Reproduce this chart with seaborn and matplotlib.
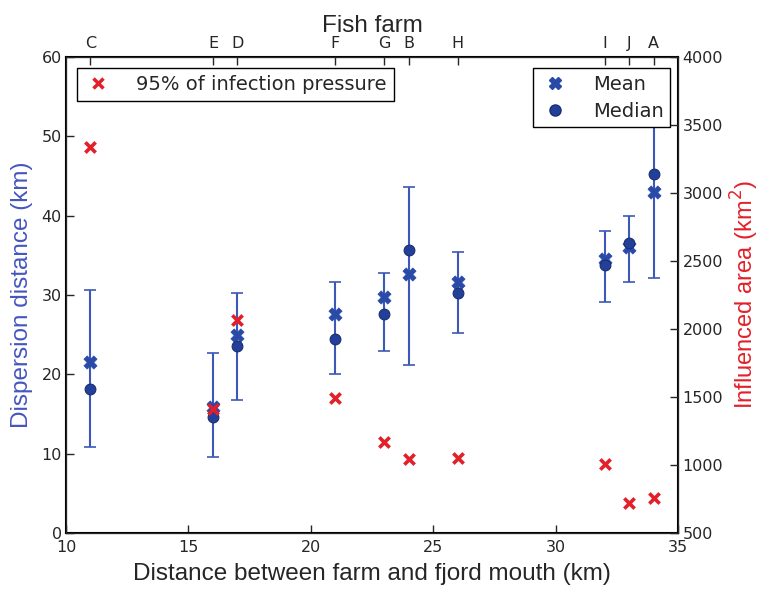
import numpy as np
import pandas as pd
import matplotlib
matplotlib.use("Agg")
import matplotlib.pyplot as plt
import seaborn as sns
from matplotlib.lines import Line2D

farms = ["C", "E", "D", "F", "G", "B", "H", "I", "J", "A"]
distance = [11, 16, 17, 21, 23, 24, 26, 32, 33, 34]
mean_km = [21.5, 15.9, 24.9, 27.6, 29.7, 32.7, 31.6, 34.6, 36.1, 43.0]
median_km = [18.1, 14.6, 23.6, 24.5, 27.6, 35.7, 30.2, 33.8, 36.5, 45.2]
err_low = [10.8, 9.6, 16.8, 20.0, 23.0, 21.2, 25.2, 29.1, 31.6, 32.2]
err_high = [30.6, 22.7, 30.2, 31.7, 32.8, 43.6, 35.4, 38.1, 40.0, 56.0]
area_km2 = [3340, 1410, 2070, 1490, 1170, 1045, 1055, 1005, 720, 755]

sns.set_style("white")
plt.rcParams["font.family"] = ["DejaVu Sans"]

blue = "#2a4aa8"
blue_err = "#3d58b8"
red = "#e3202a"
label_font = "Liberation Sans"

df = pd.DataFrame({"farm": farms, "x": distance, "mean": mean_km, "median": median_km,
                   "lo": err_low, "hi": err_high, "area": area_km2})

fig = plt.figure(figsize=(7.63, 5.91), dpi=100)
ax = fig.add_axes([0.0865, 0.098, 0.8025, 0.8056])

yerr = np.array([df["median"] - df["lo"], df["hi"] - df["median"]])
ax.errorbar(df["x"], df["median"], yerr=yerr, fmt="none", ecolor=blue_err,
            elinewidth=1.5, capsize=4, capthick=1.2, zorder=2)
sns.scatterplot(data=df, x="x", y="mean", marker="X", s=90, color=blue,
                edgecolor=blue, linewidth=0.5, ax=ax, zorder=3, legend=False)
sns.scatterplot(data=df, x="x", y="median", marker="o", s=60, color="#22409a",
                edgecolor="#1a2f70", linewidth=0.8, ax=ax, zorder=4, legend=False)

ax.set_xlim(10, 35)
ax.set_ylim(0, 60)
ax.set_xticks([10, 15, 20, 25, 30, 35])
ax.set_yticks([0, 10, 20, 30, 40, 50, 60])
ax.set_xlabel("Distance between farm and fjord mouth (km)", fontsize=17.5,
              family=label_font, labelpad=6)
ax.set_ylabel("Dispersion distance (km)", fontsize=17.5, color="#4656c0",
              family=label_font, labelpad=6)
ax.tick_params(axis="y", direction="in", length=6, width=1, labelsize=11.5,
               left=True, pad=3)
ax.tick_params(axis="x", direction="in", length=6, width=1, labelsize=11.5,
               bottom=True, pad=5)
for s in ax.spines.values():
    s.set_linewidth(1.5)
    s.set_color("black")

ax2 = ax.twinx()
sns.scatterplot(data=df, x="x", y="area", marker="x", s=55, color=red,
                linewidth=2.6, ax=ax2, zorder=3, legend=False)
ax2.set_ylim(500, 4000)
ax2.set_yticks(np.arange(500, 4001, 500))
ax2.set_ylabel("Influenced area (km$^2$)", fontsize=17, color=red,
               family=label_font, labelpad=4)
ax2.tick_params(axis="y", direction="in", length=6, width=1, labelsize=11.5,
                right=True, pad=3)
ax2.set_xlim(10, 35)

ax3 = ax.twiny()
ax3.set_xlim(10, 35)
ax3.set_xticks(distance)
ax3.set_xticklabels(farms)
ax3.tick_params(axis="x", direction="in", length=6, width=1, labelsize=11.5,
                top=True, pad=4)
ax3.set_xlabel("Fish farm", fontsize=17.5, family=label_font, labelpad=3)

h1 = [Line2D([], [], marker="x", color=red, linestyle="none", markersize=7,
             markeredgewidth=2.5)]
leg1 = ax3.legend(h1, ["95% of infection pressure"], loc="upper left",
                  bbox_to_anchor=(0.018, 0.977), borderaxespad=0, fontsize=14,
                  fancybox=False, framealpha=1, edgecolor="black",
                  handletextpad=1.2, borderpad=0.35, handlelength=1.5)
leg1.get_frame().set_linewidth(1.0)
ax3.add_artist(leg1)
h2 = [Line2D([], [], marker="X", color=blue, linestyle="none", markersize=9),
      Line2D([], [], marker="o", color="#22409a", markeredgecolor="#1a2f70",
             linestyle="none", markersize=8)]
leg2 = ax3.legend(h2, ["Mean", "Median"], loc="upper right",
                  bbox_to_anchor=(0.987, 0.977), borderaxespad=0, fontsize=14,
                  fancybox=False, framealpha=1, edgecolor="black",
                  handletextpad=1.2, borderpad=0.35, handlelength=1.5,
                  labelspacing=0.4)
leg2.get_frame().set_linewidth(1.0)

fig.savefig("out.png", dpi=100)
